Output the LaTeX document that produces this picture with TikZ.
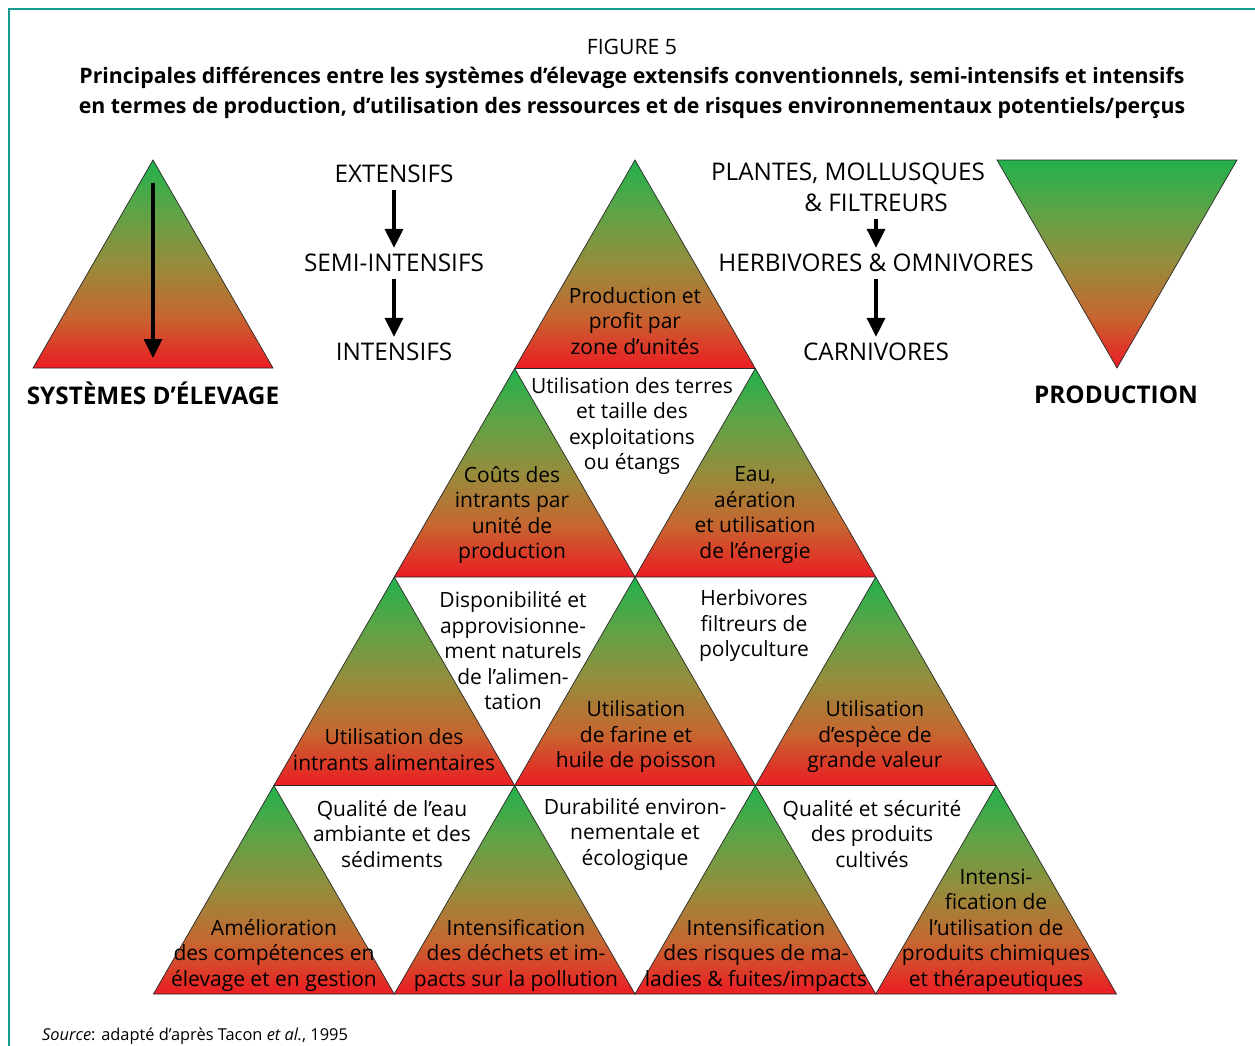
\documentclass[tikz,border=0pt]{standalone}
\usepackage{fontspec}
\setmainfont{Open Sans}
\usetikzlibrary{arrows.meta}
\definecolor{gtop}{RGB}{34,177,76}
\definecolor{gmid}{RGB}{95,163,70}
\definecolor{olmid}{RGB}{150,140,60}
\definecolor{ormid}{RGB}{198,102,48}
\definecolor{rbot}{RGB}{236,28,36}
\definecolor{teal}{RGB}{20,155,145}
\definecolor{tedge}{RGB}{40,40,40}
\pgfdeclareverticalshading{pyr}{100bp}{color(0bp)=(rbot); color(25bp)=(rbot); color(37.5bp)=(ormid); color(50bp)=(olmid); color(62.5bp)=(gmid); color(75bp)=(gtop); color(100bp)=(gtop)}
\newcommand\bodyfont{\fontsize{21pt}{25.5pt}\selectfont}
\newcommand\capsfont{\fontsize{24.3pt}{29pt}\selectfont}
\newcommand\uptri[2]{\shade[shading=pyr, draw=tedge, line width=0.7pt] (#1,#2) -- ++(-120.375,208.5) -- ++(240.75,0) -- cycle;}
\begin{document}
\begin{tikzpicture}[x=1pt,y=-1pt,
  lbl/.style={font=\bodyfont, align=center, inner sep=0pt},
  caps/.style={font=\capsfont, inner sep=0pt},
  bold/.style={font=\capsfont\bfseries, inner sep=0pt},
  bigarr/.style={line width=3.2pt, -{Triangle[width=18pt,length=19pt]}}]
\useasboundingbox (0,0) rectangle (1255,1046);
% frame
\draw[teal, line width=2.5pt] (9,1046) -- (9,9) -- (1255,9);
% title
\node[font=\fontsize{21.2pt}{24pt}\selectfont, inner sep=0pt] (fig) at (632,47) {FIGURE 5};
\node[font=\fontsize{21.3pt}{30pt}\selectfont\bfseries, align=center, inner sep=0pt] (title) at (632,92.5)
  {Principales différences entre les systèmes d’élevage extensifs conventionnels, semi-intensifs et intensifs\\
   en termes de production, d’utilisation des ressources et de risques environnementaux potentiels/perçus};
% left triangle
\shade[shading=pyr, draw=tedge, line width=0.7pt] (153,160) -- (33,368) -- (273,368) -- cycle;
\coordinate (la1) at (153,183);
\coordinate (la2) at (153,358);
\draw[bigarr] (la1) -- (la2);
\node[bold] (sys) at (153,393.5) {SYSTÈMES D’ÉLEVAGE};
% right inverted triangle
\shade[shading=pyr, draw=tedge, line width=0.7pt] (997,160) -- (1237,160) -- (1117,368) -- cycle;
\node[bold] (prod) at (1116,395) {PRODUCTION};
% left chain
\node[caps] (ext) at (394,174) {EXTENSIFS};
\node[caps] (semi) at (394,263) {SEMI-INTENSIFS};
\node[caps] (int) at (394,352) {INTENSIFS};
\draw[bigarr] ([yshift=-7pt]ext.south) -- ([yshift=6pt]semi.north);
\draw[bigarr] ([yshift=-7pt]semi.south) -- ([yshift=6pt]int.north);
% right chain
\node[caps] (plantes) at (848,174) {PLANTES, MOLLUSQUES};
\node[caps] (filt) at (876,203) {\& FILTREURS};
\node[caps] (herb) at (876,263) {HERBIVORES \& OMNIVORES};
\node[caps] (carn) at (876,352) {CARNIVORES};
\draw[bigarr] ([yshift=-7pt]filt.south) -- ([yshift=6pt]herb.north);
\draw[bigarr] ([yshift=-7pt]herb.south) -- ([yshift=6pt]carn.north);
% pyramid
\foreach \k in {0,...,3}{
  \foreach \j in {0,...,\k}{
    \pgfmathsetmacro\ax{635+(\j-\k/2)*240.75}
    \pgfmathsetmacro\ay{160+\k*208.5}
    \uptri{\ax}{\ay}
  }
}
% texts
\node[lbl] (t1) at (635,321) {Production et\\profit par\\zone d’unités};
\node[lbl] (w1) at (632,426) {Utilisation des terres\\et taille des\\exploitations\\ou étangs};
\node[lbl] (t2) at (512,515) {Coûts des\\intrants par\\unité de\\production};
\node[lbl] (t3) at (755,515) {Eau,\\aération\\et utilisation\\de l’énergie};
\node[lbl] (w2) at (513,651) {Disponibilité et\\approvisionne-\\ment naturels\\de l’alimen-\\tation};
\node[lbl] (w3) at (754,626) {Herbivores\\filtreurs de\\polyculture};
\node[lbl] (t4) at (394,749.5) {Utilisation des\\intrants alimentaires};
\node[lbl] (t5) at (636,737) {Utilisation\\de farine et\\huile de poisson};
\node[lbl] (t6) at (875,737) {Utilisation\\d’espèce de\\grande valeur};
\node[lbl] (w4) at (392,834) {Qualité de l’eau\\ambiante et des\\sédiments};
\node[lbl] (w5) at (635,834) {Durabilité environ-\\nementale et\\écologique};
\node[lbl] (w6) at (872,834) {Qualité et sécurité\\des produits\\cultivés};
\node[lbl] (t7) at (274,955) {Amélioration\\des compétences en\\élevage et en gestion};
\node[lbl] (t8) at (516,955) {Intensification\\des déchets et im-\\pacts sur la pollution};
\node[lbl] (t9) at (756,955) {Intensification\\des risques de ma-\\ladies \& fuites/impacts};
\node[lbl] (t10) at (996,930) {Intensi-\\fication de\\l’utilisation de\\produits chimiques\\et thérapeutiques};
% source
\node[font=\fontsize{16.4pt}{18pt}\selectfont, inner sep=0pt, anchor=west] (src) at (42,1036) {\textit{Source}: adapté d’après Tacon \textit{et al.}, 1995};
\end{tikzpicture}
\end{document}
